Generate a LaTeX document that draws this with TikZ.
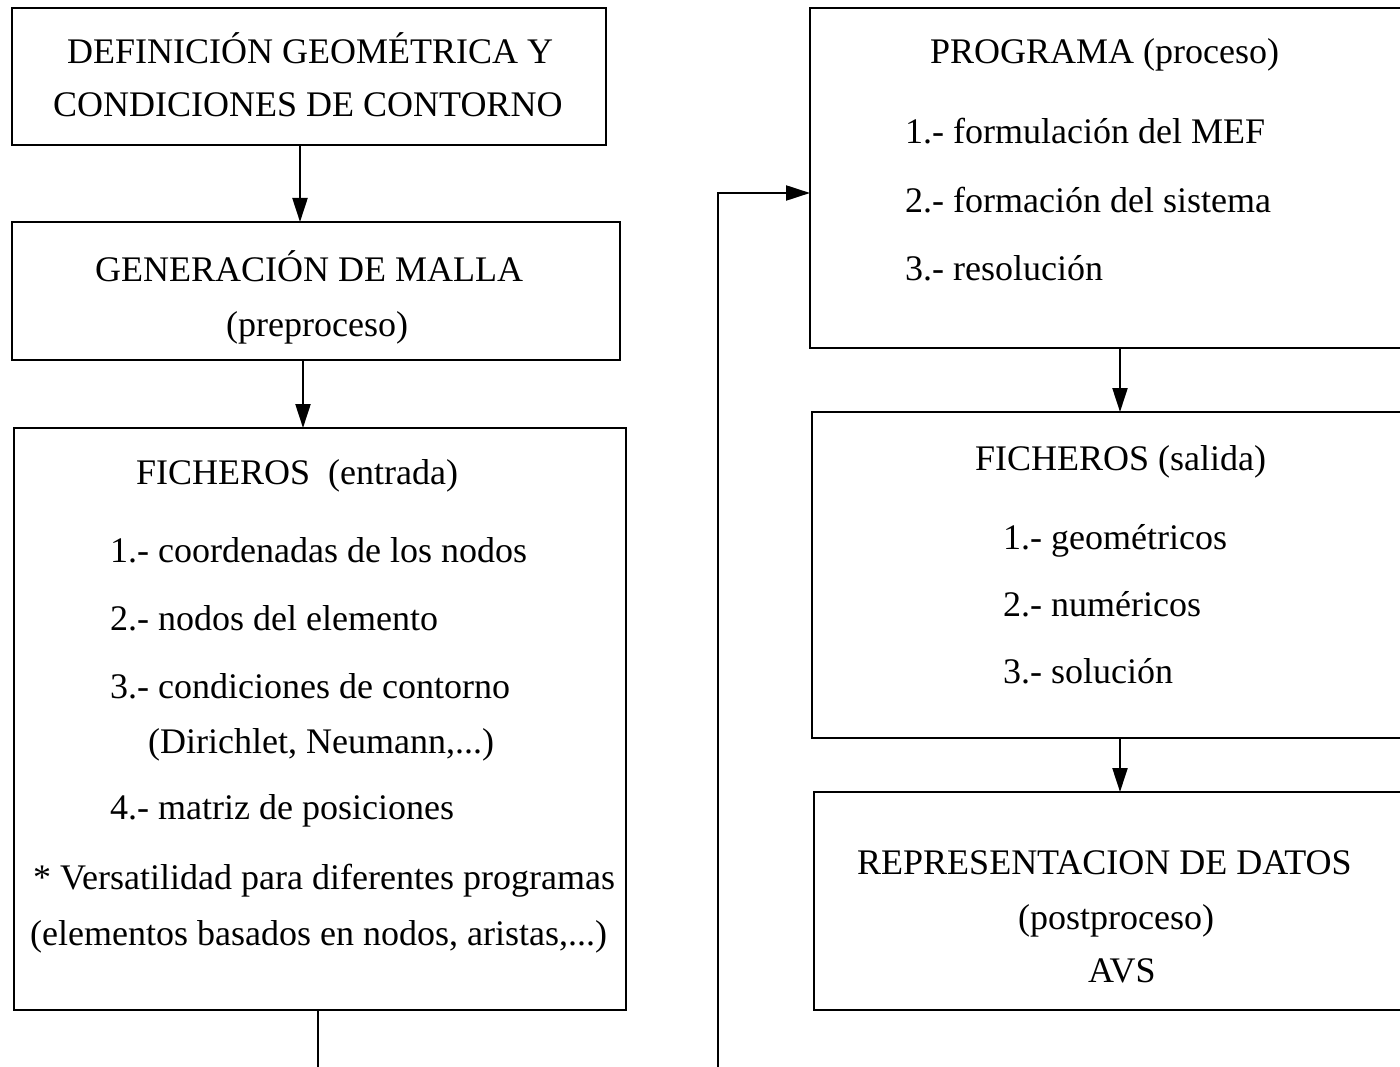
\documentclass[tikz,border=0pt]{standalone}
\usepackage{fontspec}
\setmainfont{Liberation Serif}
\usetikzlibrary{arrows.meta}
\begin{document}
\begin{tikzpicture}[x=1pt,y=-1pt,
  box/.style={draw, line width=2.6pt, anchor=north west, inner sep=0pt, outer sep=0pt},
  txt/.style={anchor=base west, inner sep=0pt, font=\fontsize{36}{40}\selectfont},
  arr/.style={line width=2.2pt, -{Triangle[length=24pt,width=15pt]}},
  ln/.style={line width=2.2pt}]
\useasboundingbox (0,0) rectangle (1400,1067);
\clip (0,0) rectangle (1400,1067);
\fill[white] (0,0) rectangle (1400,1067);
% boxes
\node[box, minimum width=594pt, minimum height=137pt] (b1) at (12,8) {};
\node[box, minimum width=608pt, minimum height=138pt] (b2) at (12,222) {};
\node[box, minimum width=612pt, minimum height=582pt] (b3) at (14,428) {};
\node[box, minimum width=594pt, minimum height=340pt] (b4) at (810,8) {};
\node[box, minimum width=592pt, minimum height=326pt] (b5) at (812,412) {};
\node[box, minimum width=590pt, minimum height=218pt] (b6) at (814,792) {};
% texts box 1
\node[txt] (t1a) at (67,64) {DEFINICIÓN GEOMÉTRICA Y};
\node[txt] (t1b) at (53,117) {CONDICIONES DE CONTORNO};
% box 2
\node[txt] (t2a) at (95,282) {GENERACIÓN DE MALLA};
\node[txt] (t2b) at (226,336) {(preproceso)};
% box 3
\node[txt] (t3a) at (136,484) {FICHEROS~~(entrada)};
\node[txt] (t3b) at (110,562) {1.- coordenadas de los nodos};
\node[txt] (t3c) at (110,630) {2.- nodos del elemento};
\node[txt] (t3d) at (110,698) {3.- condiciones de contorno};
\node[txt] (t3e) at (148,753) {(Dirichlet, Neumann,...)};
\node[txt] (t3f) at (110,819) {4.- matriz de posiciones};
\node[txt] (t3g) at (33,889) {* Versatilidad para diferentes programas};
\node[txt] (t3h) at (30,945) {(elementos basados en nodos, aristas,...)};
% box 4
\node[txt] (t4a) at (930,64) {PROGRAMA (proceso)};
\node[txt] (t4b) at (905,144) {1.- formulación del MEF};
\node[txt] (t4c) at (905,213) {2.- formación del sistema};
\node[txt] (t4d) at (905,280) {3.- resolución};
% box 5
\node[txt] (t5a) at (975,470) {FICHEROS (salida)};
\node[txt] (t5b) at (1003,549) {1.- geométricos};
\node[txt] (t5c) at (1003,616) {2.- numéricos};
\node[txt] (t5d) at (1003,683) {3.- solución};
% box 6
\node[txt] (t6a) at (857,874) {REPRESENTACION DE DATOS};
\node[txt] (t6b) at (1018,929) {(postproceso)};
\node[txt] (t6c) at (1088,982) {AVS};
% connectors
\coordinate (c1) at (318,1075);
\coordinate (c2) at (718,1075);
\draw[arr] ([xshift=-9pt]b1.south) -- ([xshift=-9pt]b1.south |- b2.north);
\draw[arr] ([xshift=-13pt]b2.south) -- ([xshift=-13pt]b2.south |- b3.north);
\draw[ln] (c1 |- b3.south) -- (c1);
\draw[arr] (c2) |- ([yshift=-15pt]b4.west);
\draw[arr] ([xshift=13pt]b4.south) -- ([xshift=13pt]b4.south |- b5.north);
\draw[arr] ([xshift=12pt]b5.south) -- ([xshift=12pt]b5.south |- b6.north);
\end{tikzpicture}
\end{document}
